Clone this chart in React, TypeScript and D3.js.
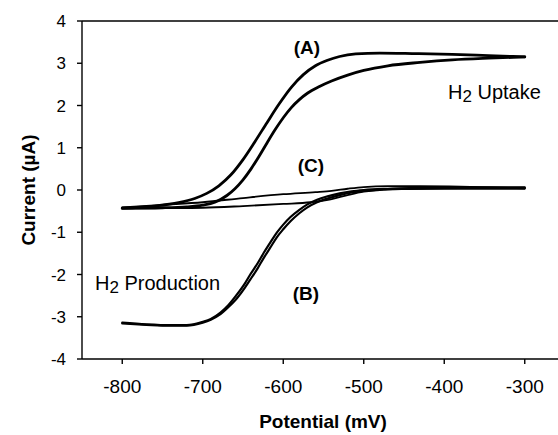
import * as d3 from "d3";

const W = 558;
const H = 435;

const X_TICKS = [-800, -700, -600, -500, -400, -300];
const Y_TICKS = [-4, -3, -2, -1, 0, 1, 2, 3, 4];

// (A) H2 uptake loop, forward (lower) and reverse (upper) branches
const A_FWD_V = [-800, -750, -720, -700, -685, -670, -660, -650, -640, -630, -620, -610, -600, -590, -580, -570, -555, -540, -520, -500, -470, -430, -390, -345, -300];
const A_FWD_I = [-0.43, -0.42, -0.4, -0.36, -0.29, -0.13, 0.03, 0.24, 0.5, 0.8, 1.12, 1.43, 1.71, 1.95, 2.14, 2.29, 2.45, 2.58, 2.72, 2.83, 2.94, 3.02, 3.08, 3.12, 3.15];
const A_REV_V = [-800, -760, -730, -710, -695, -680, -665, -650, -635, -620, -605, -590, -575, -560, -545, -530, -510, -480, -440, -390, -345, -300];
const A_REV_I = [-0.43, -0.38, -0.3, -0.2, -0.08, 0.1, 0.36, 0.72, 1.15, 1.6, 2.04, 2.43, 2.73, 2.94, 3.07, 3.16, 3.22, 3.24, 3.23, 3.21, 3.18, 3.15];

// (C) control, thin loop
const C_UP_V = [-800, -750, -700, -650, -600, -560, -540, -520, -500, -470, -430, -380, -340, -300];
const C_UP_I = [-0.41, -0.35, -0.29, -0.19, -0.1, -0.05, -0.02, 0.03, 0.07, 0.09, 0.09, 0.08, 0.06, 0.04];
const C_LO_V = [-800, -750, -700, -650, -600, -566, -541, -520, -500, -480, -450, -400, -350, -300];
const C_LO_I = [-0.44, -0.43, -0.42, -0.38, -0.33, -0.29, -0.22, -0.12, -0.04, 0.0, 0.02, 0.03, 0.03, 0.03];

// (B) H2 production, two nearly overlapping scans
const B1_V = [-800, -770, -740, -720, -700, -690, -678, -668, -657, -648, -641, -632, -624, -616, -608, -600, -591, -580, -570, -558, -545, -530, -515, -500, -470, -430, -380, -340, -300];
const B1_I = [-3.16, -3.19, -3.21, -3.21, -3.14, -3.07, -2.94, -2.77, -2.55, -2.32, -2.12, -1.86, -1.6, -1.36, -1.12, -0.93, -0.74, -0.55, -0.41, -0.29, -0.2, -0.12, -0.06, -0.02, 0.02, 0.04, 0.05, 0.05, 0.05];
const B2_V = [-800, -770, -740, -720, -700, -690, -678, -668, -657, -648, -641, -632, -624, -616, -608, -600, -591, -580, -570, -558, -545, -530, -515, -500, -470, -430, -380, -340, -300];
const B2_I = [-3.14, -3.18, -3.2, -3.2, -3.12, -3.05, -2.9, -2.72, -2.46, -2.22, -2.0, -1.74, -1.48, -1.24, -1.01, -0.82, -0.64, -0.47, -0.34, -0.23, -0.15, -0.08, -0.03, 0.0, 0.03, 0.05, 0.06, 0.06, 0.06];

const FONT = "'Liberation Sans', Arial, Helvetica, sans-serif";

const x = d3.scaleLinear().domain([-850, -250]).range([82, 565]);
const y = d3.scaleLinear().domain([-4, 4]).range([359, 21]);

const line = d3
  .line<[number, number]>()
  .x((d) => x(d[0]))
  .y((d) => y(d[1]))
  .curve(d3.curveMonotoneX);

const pts = (vs: number[], is: number[]) => vs.map((v, i) => [v, is[i]] as [number, number]);

export default function App() {
  const [x0] = x.range();
  const [yBot, yTop] = y.range();

  const curves = [
    { d: line(pts(A_FWD_V, A_FWD_I)), w: 2.8 },
    { d: line(pts(A_REV_V, A_REV_I)), w: 2.8 },
    { d: line(pts(C_UP_V, C_UP_I)), w: 1.8 },
    { d: line(pts(C_LO_V, C_LO_I)), w: 1.8 },
    { d: line(pts(B1_V, B1_I)), w: 2.2 },
    { d: line(pts(B2_V, B2_I)), w: 2.2 },
  ];

  return (
    <svg
      width={W}
      height={H}
      style={{ position: "absolute", left: 0, top: 0, background: "#fff" }}
      fontFamily={FONT}
    >
      {/* frame */}
      <g stroke="#000" strokeWidth={1.4} fill="none">
        <line x1={x0} x2={W + 10} y1={yTop} y2={yTop} />
        <line x1={x0} x2={W + 10} y1={yBot} y2={yBot} />
        <line x1={x0} x2={x0} y1={yTop} y2={yBot} />
        {Y_TICKS.map((t) => (
          <line key={"yt" + t} x1={x0 - 5} x2={x0} y1={y(t)} y2={y(t)} />
        ))}
        {X_TICKS.map((t) => (
          <line key={"xt" + t} x1={x(t)} x2={x(t)} y1={yBot} y2={yBot + 5} />
        ))}
      </g>

      {/* tick labels */}
      {Y_TICKS.map((t) => (
        <text key={"yl" + t} x={x0 - 16} y={y(t)} dy="0.36em" textAnchor="end" fontSize={17}>
          {t}
        </text>
      ))}
      {X_TICKS.map((t) => (
        <text key={"xl" + t} x={x(t)} y={393} textAnchor="middle" fontSize={19}>
          {t}
        </text>
      ))}

      {/* axis titles */}
      <text x={323} y={428} textAnchor="middle" fontSize={19} fontWeight="bold">
        Potential (mV)
      </text>
      <text
        transform={`translate(35,${(yTop + yBot) / 2}) rotate(-90)`}
        textAnchor="middle"
        fontSize={19}
        fontWeight="bold"
      >
        Current (µA)
      </text>

      {/* curves */}
      <g fill="none" stroke="#000" strokeLinejoin="round" strokeLinecap="round">
        {curves.map((c, i) => (
          <path key={i} d={c.d ?? ""} strokeWidth={c.w} />
        ))}
      </g>

      {/* annotations */}
      <g fontSize={19} fontWeight="bold" textAnchor="middle">
        <text x={307} y={54}>(A)</text>
        <text x={311} y={172}>(C)</text>
        <text x={306} y={300}>(B)</text>
      </g>
      <g fontSize={20}>
        <text x={448} y={99}>
          H<tspan fontSize={17} dy={3}>2</tspan>
          <tspan dy={-3}> Uptake</tspan>
        </text>
        <text x={95} y={290}>
          H<tspan fontSize={17} dy={3}>2</tspan>
          <tspan dy={-3}> Production</tspan>
        </text>
      </g>
    </svg>
  );
}
